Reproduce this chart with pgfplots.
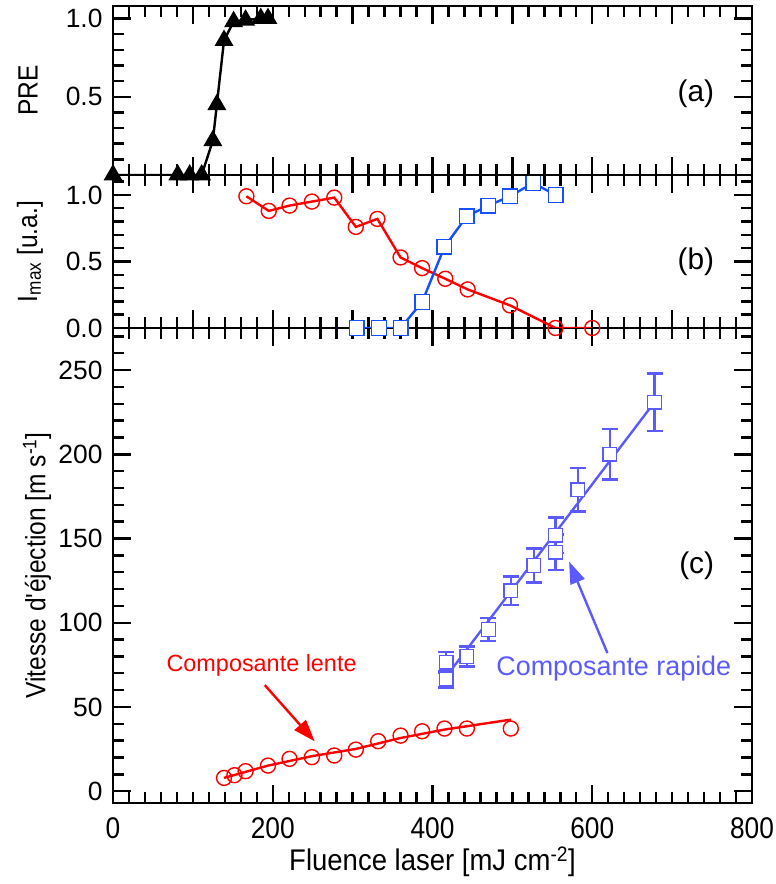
\documentclass[border=0pt]{standalone}
\usepackage{pgfplots}
\pgfplotsset{compat=1.18}
\usepackage{fontspec}
\setmainfont{Liberation Sans}
\newfontfamily\narrowfont[FakeStretch=0.88]{Liberation Sans}
\newfontfamily\xlabfont[FakeStretch=0.92]{Liberation Sans}
\usetikzlibrary{arrows.meta}
\definecolor{bblue}{RGB}{20,80,255}
\definecolor{lblue}{RGB}{90,90,255}
\pgfplotsset{
  common/.style={
    scale only axis, width=639bp, xmin=0, xmax=800,
    axis line style={line width=2.4bp},
    every tick/.style={line width=2.4bp, black},
    major tick length=18bp, minor tick length=11bp,
    tick align=inside,
    /pgf/number format/assume math mode=true,
    yticklabel style={font=\fontsize{26.5}{30}\selectfont, xshift=-7bp},
    xticklabel style={font=\narrowfont\fontsize{30}{34}\selectfont, yshift=-11bp},
    ylabel style={font=\narrowfont\fontsize{28}{32}\selectfont},
    xlabel style={font=\xlabfont\fontsize{30}{34}\selectfont},
    clip mode=individual,
  },
}
\begin{document}
\begin{tikzpicture}[x=1bp,y=1bp]
\useasboundingbox (0,0) rectangle (776,884);
% ---------------- panel (c)
\begin{axis}[common, at={(113bp,81bp)}, anchor=south west, height=475bp,
  ymin=-7, ymax=275,
  xtick={0,200,400,600,800}, minor xtick={20,40,...,780},
  ytick={0,50,...,250}, minor ytick={10,20,...,270},
  xlabel={Fluence laser [mJ cm\textsuperscript{-2}]},
  xlabel style={at={(axis description cs:0.5,-0.124)}, anchor=center},
  ylabel={Vitesse d\textquotesingle éjection [m s\textsuperscript{-1}]},
  ylabel style={at={(axis description cs:-0.119,0.5)}, anchor=center},
]
% slow component fit line
\addplot[red, line width=2.4bp] coordinates {
(139,7.9) (194,15.2) (249,20.8) (304,25.1) (360,31.6) (415,36.6) (442,38.5) (498,42.5)};
\addplot[red, only marks, mark=o, mark size=7.5bp, mark options={fill=white, line width=1.4bp}] coordinates {
(139,7.9) (152,9.5) (166,11.9) (194,15.2) (221,19.2) (249,20.2) (277,21.2) (304,24.7) (332,29.7) (360,33.0) (387,35.6) (415,37.2) (443,37.2) (498,37.2)};
% fast component fit line
\addplot[lblue, line width=2.4bp] coordinates {(417,68) (678,231)};
\addplot[lblue, only marks, mark=square*, mark size=6.8bp, mark options={fill=white, draw=lblue, line width=1.4bp},
  error bars/.cd, y dir=both, y explicit,
  error bar style={line width=2.4bp, lblue},
  error mark options={rotate=90, mark size=8bp, line width=2.4bp, lblue}]
  table[x=x, y=y, y error=e] {
x y e
417 76.5 6
417 66.5 5
443 80 6
470 96 7
498 119 8.5
527 134 10
554 152 10.5
554 142 10.5
582 179 13
622 200 15
678 231 17
};
\node[red, font=\fontsize{23.5}{27}\selectfont] at (axis cs:186,74.5) {Composante lente};
\draw[red, line width=2.4bp, -{Triangle[length=22bp,width=15bp]}] (axis cs:190,63) -- (axis cs:252.5,29.6);
\node[lblue, font=\fontsize{27}{31}\selectfont] at (axis cs:627,73) {Composante rapide};
\draw[lblue, line width=2.4bp, -{Triangle[length=22bp,width=15bp]}] (axis cs:619,82) -- (axis cs:571,136.3);
\node[font=\fontsize{30}{34}\selectfont, anchor=east] at (axis cs:757,134) {(c)};
\end{axis}
% ---------------- panel (b)
\begin{axis}[common, at={(113bp,556bp)}, anchor=south west, height=153bp,
  ymin=0, ymax=1.15,
  xtick={0,100,...,800}, minor xtick={20,40,...,780}, xticklabels={},
  ytick={0,0.5,1.0}, minor ytick={0.1,0.2,0.3,0.4,0.6,0.7,0.8,0.9,1.1},
  yticklabel style={/pgf/number format/.cd, fixed, fixed zerofill, precision=1},
  ylabel={I\textsubscript{max} [u.a.]},
  ylabel style={at={(axis description cs:-0.130,0.5)}, anchor=center},
]
\addplot[red, line width=2.4bp, mark=o, mark size=7.5bp, mark options={fill=white, line width=1.4bp}] coordinates {
(167,0.99) (195,0.88) (221,0.92) (249,0.95) (277,0.98) (304,0.76) (331,0.82) (360,0.53) (387,0.45) (416,0.37) (444,0.29) (497,0.17) (554,0.0) (600,0.0)};
\addplot[bblue, line width=2.4bp, mark=square*, mark size=7.3bp, mark options={fill=white, line width=1.4bp}] coordinates {
(305,0) (333,0) (360,0) (387,0.195) (415,0.61) (443,0.84) (470,0.92) (497,0.99) (526,1.09) (554,1.0)};
\node[font=\fontsize{30}{34}\selectfont, anchor=east] at (axis cs:757,0.5) {(b)};
\end{axis}
% ---------------- panel (a)
\begin{axis}[common, at={(113bp,709bp)}, anchor=south west, height=169bp,
  ymin=0, ymax=1.08,
  xtick={0,100,...,800}, minor xtick={20,40,...,780}, xticklabels={},
  ytick={0.5,1.0}, minor ytick={0.1,0.2,0.3,0.4,0.6,0.7,0.8,0.9},
  yticklabel style={/pgf/number format/.cd, fixed, fixed zerofill, precision=1},
  ylabel={PRE},
  ylabel style={at={(axis description cs:-0.133,0.5)}, anchor=center},
]
\addplot[black, line width=2.4bp, mark=triangle*, mark size=8.5bp] coordinates {
(0,0) (81,0) (96,0) (111,0) (125,0.22) (130,0.45) (139,0.86) (151,0.98) (166,0.99) (185,1.0) (194,1.0)};
\node[font=\fontsize{30}{34}\selectfont, anchor=east] at (axis cs:757,0.52) {(a)};
\end{axis}
\end{tikzpicture}
\end{document}
